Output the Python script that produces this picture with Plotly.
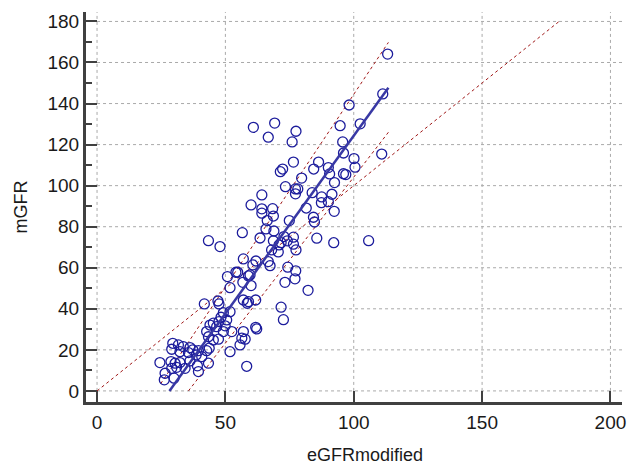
import plotly.graph_objects as go

# ---- data ----
egfr = [113.2, 111.3, 98.2, 102.5, 94.7, 69.2, 60.9, 77.5, 66.7, 76.0, 95.7, 110.9, 96.0,
        86.3, 76.5, 100.1, 100.5, 84.4, 90.1, 90.6, 96.0, 96.9, 72.3, 71.4, 79.7, 92.5, 73.4,
        77.3, 78.2, 77.3, 83.8, 87.5, 91.5, 64.2,
        87.4, 90.1, 92.4, 81.5, 74.9, 84.3, 84.7, 64.2, 64.2, 68.4, 68.7, 66.3, 65.8, 68.9,
        85.6, 92.2, 105.8, 63.5, 68.7, 72.8, 74.1, 76.5, 70.9, 71.7, 68.0, 70.6,
        60.0, 56.6, 43.4, 47.9, 77.5, 76.5,
        57.0, 61.9, 60.7, 66.7, 67.4, 74.3, 77.4, 54.1, 54.8, 50.8, 51.8, 59.6, 56.8, 60.0,
        73.2, 77.1, 82.2, 59.0, 57.0, 59.0, 58.5, 61.8, 71.7,
        72.6, 61.8, 62.2, 57.0, 56.4, 57.7, 55.7, 58.3,
        41.8, 47.1, 47.5, 51.8, 49.2, 48.3, 50.5, 47.5, 45.3, 44.0, 46.6, 49.9, 42.7, 49.2,
        52.5, 43.4, 47.3, 45.3,
        29.5, 31.7, 33.6, 36.2, 37.3, 29.1, 32.3, 35.6, 39.5, 42.7, 43.7, 38.6, 40.8, 24.5,
        28.8, 30.4, 32.3, 36.2, 43.4, 29.1, 31.0, 34.3, 26.5, 30.0, 26.2, 39.5, 39.1, 51.8]
mgfr = [164.1, 144.7, 139.3, 130.1, 129.2, 130.5, 128.4, 126.5, 123.6, 121.3, 121.3, 115.4, 115.9,
        111.5, 111.5, 113.2, 109.0, 108.1, 108.8, 105.7, 105.8, 105.4, 108.1, 106.8, 103.7, 101.5, 99.5,
        98.4, 98.4, 96.0, 96.6, 94.5, 95.8, 95.5,
        91.7, 92.2, 87.5, 89.1, 83.0, 84.6, 82.3, 88.7, 86.6, 88.8, 85.2, 83.0, 78.9, 77.9,
        74.4, 72.2, 73.2, 74.5, 73.1, 75.2, 73.1, 74.9, 71.1, 72.2, 68.7, 67.7,
        90.6, 77.1, 73.2, 70.3, 68.7, 71.5,
        64.3, 63.3, 61.4, 63.0, 61.0, 60.3, 58.5, 57.8, 57.8, 55.7, 50.3, 56.5, 52.9, 51.3,
        52.9, 54.6, 49.0, 56.0, 44.3, 43.5, 42.7, 44.3, 40.8,
        34.7, 31.0, 30.2, 28.9, 25.7, 25.2, 22.4, 12.0,
        42.4, 43.8, 42.4, 38.6, 38.1, 35.9, 34.6, 33.8, 33.0, 32.1, 31.3, 31.7, 28.9, 28.9,
        28.9, 26.4, 25.2, 24.8,
        23.2, 22.4, 21.6, 21.1, 20.0, 20.3, 19.1, 18.7, 19.6, 19.6, 20.8, 17.5, 16.7, 13.8,
        14.3, 13.5, 13.8, 14.6, 13.5, 11.0, 11.5, 11.0, 8.6, 6.2, 5.4, 9.4, 12.2, 19.1]

reg_x = [28.2, 113.5]
reg_y = [0.0, 147.7]
ci_upper_x = [24.8, 113.5]
ci_upper_y = [3.5, 169.8]
ci_lower_x = [35.6, 113.5]
ci_lower_y = [0.0, 126.0]
identity_x = [0, 180]
identity_y = [0, 180]

x_ticks = [0, 50, 100, 150, 200]
y_ticks = [0, 20, 40, 60, 80, 100, 120, 140, 160, 180]
x_title = "eGFRmodified"
y_title = "mGFR"

# ---- styling ----
FONT = "Liberation Sans, Arial, sans-serif"
AXIS_COL = "#404040"
GRID_COL = "#a9a9a9"
RED = "#a01818"
X_RANGE = [-4.3, 204.5]
Y_RANGE = [-5.4, 184.6]

fig = go.Figure()

fig.add_trace(go.Scatter(x=identity_x, y=identity_y, mode="lines",
                         line=dict(color=RED, width=1, dash="dot"), hoverinfo="skip"))
fig.add_trace(go.Scatter(x=ci_upper_x, y=ci_upper_y, mode="lines",
                         line=dict(color=RED, width=1, dash="dot"), hoverinfo="skip"))
fig.add_trace(go.Scatter(x=ci_lower_x, y=ci_lower_y, mode="lines",
                         line=dict(color=RED, width=1, dash="dot"), hoverinfo="skip"))
fig.add_trace(go.Scatter(x=egfr, y=mgfr, mode="markers",
                         marker=dict(symbol="circle-open", size=10, color="#1c1c9c",
                                     line=dict(width=1.3, color="#1c1c9c"))))
fig.add_trace(go.Scatter(x=reg_x, y=reg_y, mode="lines",
                         line=dict(color="#3838a4", width=2.5)))

# dotted grid starting at the origin (as in the reference)
for xv in x_ticks:
    fig.add_shape(type="line", xref="x", yref="y", x0=xv, x1=xv, y0=0, y1=Y_RANGE[1],
                  line=dict(color=GRID_COL, width=1, dash="dot"), layer="below")
for yv in y_ticks:
    fig.add_shape(type="line", xref="x", yref="y", x0=0, x1=X_RANGE[1], y0=yv, y1=yv,
                  line=dict(color=GRID_COL, width=1, dash="dot"), layer="below")

# x-axis title, placed slightly right of centre as in the reference
fig.add_annotation(text=x_title, xref="paper", yref="paper", x=0.521, y=-0.136,
                   xanchor="center", yanchor="middle", showarrow=False,
                   font=dict(family=FONT, size=18, color="#1a1a1a"))

fig.update_layout(
    width=628, height=465,
    margin=dict(l=86, r=6, t=12, b=63),
    paper_bgcolor="white", plot_bgcolor="white",
    showlegend=False,
    font=dict(family=FONT, size=19, color="#1a1a1a"),
)
fig.update_xaxes(
    range=X_RANGE, tickvals=x_ticks, showgrid=False, zeroline=False, automargin=False,
    showline=True, linecolor=AXIS_COL, linewidth=3,
    ticks="inside", ticklen=11, tickwidth=2, tickcolor=AXIS_COL,
    ticklabelstandoff=1, ticklabeloverflow="allow",
)
fig.update_yaxes(
    range=Y_RANGE, tickvals=y_ticks, showgrid=False, zeroline=False, automargin=False,
    showline=True, linecolor=AXIS_COL, linewidth=3,
    ticks="inside", ticklen=11, tickwidth=2, tickcolor=AXIS_COL,
    minor=dict(ticks="inside", ticklen=6, tickwidth=2, tickcolor=AXIS_COL, dtick=10, showgrid=False),
    title=dict(text=y_title, standoff=16, font=dict(size=18)),
)

# remove the default page margin so the 628x465 figure fills the window exactly
fig.write_html("out.html",
               config={"displayModeBar": False},
               post_script="document.body.style.margin='0';document.body.style.overflow='hidden';")
